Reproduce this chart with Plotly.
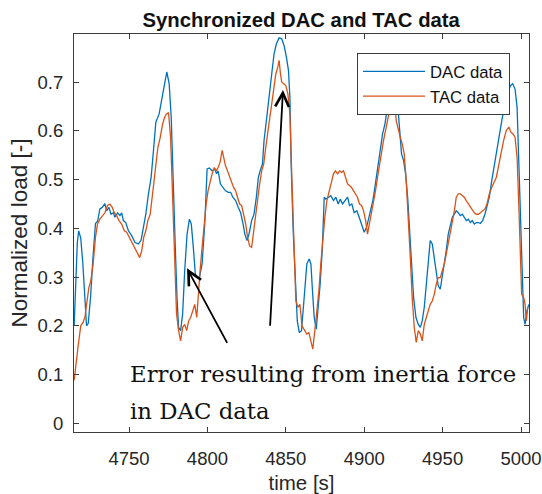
import plotly.graph_objects as go

# ---- data ----
dac_time = [4715.0, 4716.2, 4717.0, 4717.9, 4719.2, 4720.5, 4721.7, 4722.9, 4724.0, 4725.5,
            4727.0, 4728.6, 4730.0, 4731.4, 4732.9, 4734.6, 4735.7, 4737.2, 4738.5, 4740.0,
            4741.0, 4742.7, 4744.2, 4745.3, 4746.4, 4747.9, 4749.6, 4751.7, 4753.8, 4756.0,
            4757.7, 4759.2, 4760.7, 4762.4, 4764.1, 4765.6, 4767.1, 4769.2, 4770.9, 4772.7,
            4774.1, 4775.6, 4776.9, 4778.4, 4779.5, 4780.6, 4781.6, 4782.9, 4784.2, 4785.5,
            4787.0, 4788.5, 4789.7, 4791.0, 4792.3, 4793.6, 4794.9, 4796.6, 4798.3, 4799.8,
            4801.3, 4803.0, 4804.7, 4805.8, 4806.8, 4808.3, 4809.8, 4811.5, 4813.3, 4814.8,
            4816.2, 4818.0, 4819.7, 4821.2, 4822.7, 4823.9, 4825.2, 4826.5, 4828.2, 4829.7,
            4831.2, 4832.5, 4833.6, 4835.1, 4836.1, 4837.6, 4839.3, 4841.0, 4842.5, 4844.0,
            4845.7, 4847.4, 4848.9, 4850.4, 4851.7, 4852.6, 4853.4, 4854.7, 4856.0, 4857.3,
            4858.6, 4860.0, 4861.7, 4863.4, 4864.9, 4866.0, 4867.0, 4868.1, 4869.4, 4870.6,
            4871.9, 4873.2, 4874.5, 4875.5, 4877.0, 4878.7, 4880.4, 4881.9, 4883.4, 4884.7,
            4886.2, 4887.7, 4889.4, 4890.6, 4892.1, 4893.6, 4895.3, 4896.8, 4898.3, 4900.0,
            4901.5, 4903.0, 4904.3, 4905.5, 4906.8, 4908.5, 4910.2, 4911.7, 4913.2, 4914.9,
            4916.5, 4918.0, 4919.5, 4921.3, 4922.3, 4923.8, 4925.1, 4926.4, 4927.7, 4928.9,
            4930.2, 4931.5, 4933.0, 4934.5, 4935.8, 4937.0, 4938.3, 4939.6, 4940.9, 4942.1,
            4943.4, 4944.7, 4946.0, 4947.2, 4948.5, 4949.8, 4951.1, 4952.3, 4953.6, 4954.9,
            4956.2, 4957.5, 4958.7, 4960.0, 4961.3, 4962.6, 4963.8, 4965.1, 4966.4, 4967.7,
            4968.9, 4970.2, 4971.5, 4972.8, 4974.1, 4975.5, 4977.0, 4978.3, 4979.8, 4981.3,
            4983.0, 4984.7, 4986.4, 4988.1, 4989.8, 4991.5, 4993.2, 4994.7, 4996.2, 4997.5,
            4998.3, 4999.2, 5000.0, 5000.9, 5001.7, 5002.6, 5003.8, 5005.0]
dac_load = [0.200, 0.300, 0.370, 0.395, 0.380, 0.330, 0.260, 0.200, 0.205, 0.260,
            0.340, 0.410, 0.415, 0.440, 0.443, 0.451, 0.436, 0.443, 0.429, 0.432,
            0.423, 0.432, 0.426, 0.432, 0.416, 0.412, 0.395, 0.385, 0.371, 0.368,
            0.376, 0.402, 0.429, 0.471, 0.505, 0.560, 0.618, 0.635, 0.669, 0.697,
            0.721, 0.697, 0.628, 0.497, 0.361, 0.258, 0.197, 0.190, 0.225, 0.313,
            0.388, 0.419, 0.409, 0.361, 0.306, 0.299, 0.299, 0.327, 0.409, 0.522,
            0.524, 0.518, 0.522, 0.512, 0.518, 0.491, 0.484, 0.477, 0.474, 0.474,
            0.464, 0.457, 0.443, 0.432, 0.409, 0.388, 0.375, 0.388, 0.416, 0.429,
            0.464, 0.505, 0.518, 0.532, 0.580, 0.628, 0.669, 0.717, 0.758, 0.779,
            0.791, 0.789, 0.775, 0.751, 0.724, 0.669, 0.532, 0.395, 0.292, 0.210,
            0.186, 0.190, 0.258, 0.327, 0.337, 0.327, 0.272, 0.217, 0.193, 0.231,
            0.286, 0.354, 0.464, 0.460, 0.464, 0.467, 0.457, 0.464, 0.450, 0.460,
            0.450, 0.457, 0.464, 0.447, 0.450, 0.432, 0.436, 0.423, 0.409, 0.392,
            0.402, 0.423, 0.443, 0.457, 0.484, 0.518, 0.560, 0.594, 0.614, 0.649,
            0.700, 0.740, 0.730, 0.652, 0.601, 0.553, 0.539, 0.512, 0.464, 0.395,
            0.313, 0.258, 0.217, 0.203, 0.197, 0.210, 0.238, 0.286, 0.340, 0.375,
            0.368, 0.340, 0.313, 0.282, 0.275, 0.299, 0.327, 0.354, 0.388, 0.409,
            0.423, 0.429, 0.436, 0.432, 0.426, 0.429, 0.423, 0.416, 0.419, 0.412,
            0.416, 0.409, 0.412, 0.412, 0.410, 0.416, 0.429, 0.447, 0.464, 0.497,
            0.532, 0.566, 0.601, 0.628, 0.655, 0.676, 0.693, 0.697, 0.686, 0.649,
            0.566, 0.464, 0.361, 0.272, 0.217, 0.203, 0.231, 0.244]

tac_time = [4715.0, 4716.2, 4717.6, 4719.2, 4720.7, 4721.8, 4722.9, 4724.4, 4725.6, 4727.1,
            4728.6, 4729.9, 4731.4, 4732.9, 4734.6, 4736.3, 4737.8, 4739.3, 4740.6, 4742.1,
            4743.6, 4745.3, 4747.0, 4748.5, 4750.0, 4751.7, 4753.4, 4755.1, 4756.8, 4758.1,
            4759.4, 4760.7, 4762.0, 4763.5, 4764.5, 4765.8, 4767.1, 4768.4, 4769.9, 4771.4,
            4772.7, 4773.9, 4775.2, 4776.5, 4777.8, 4779.1, 4780.3, 4781.6, 4782.9, 4784.2,
            4785.5, 4786.8, 4788.0, 4789.3, 4790.6, 4791.9, 4793.2, 4794.0, 4795.3, 4796.6,
            4797.9, 4799.2, 4800.4, 4801.7, 4803.0, 4804.3, 4805.6, 4806.8, 4808.1, 4809.4,
            4810.5, 4811.5, 4812.8, 4814.1, 4815.4, 4816.7, 4818.0, 4819.2, 4820.5, 4821.8,
            4823.1, 4824.4, 4825.6, 4826.9, 4828.2, 4829.5, 4830.8, 4832.1, 4833.3, 4834.6,
            4835.9, 4837.2, 4838.5, 4839.8, 4841.0, 4842.3, 4843.6, 4844.9, 4845.7, 4846.6,
            4847.4, 4848.7, 4850.0, 4851.3, 4852.6, 4853.9, 4855.1, 4856.4, 4857.7, 4859.0,
            4860.3, 4862.1, 4863.4, 4864.7, 4866.0, 4867.2, 4868.5, 4869.8, 4871.1, 4872.3,
            4873.6, 4874.9, 4876.2, 4877.7, 4879.1, 4880.4, 4881.7, 4883.0, 4884.3, 4885.5,
            4886.8, 4888.1, 4889.4, 4890.6, 4891.9, 4893.2, 4894.5, 4895.7, 4897.0, 4898.3,
            4899.6, 4900.9, 4902.1, 4903.4, 4904.7, 4906.0, 4907.2, 4908.5, 4909.8, 4911.1,
            4912.3, 4913.6, 4914.9, 4916.2, 4917.5, 4918.8, 4920.4, 4921.7, 4923.0, 4924.3,
            4925.5, 4926.8, 4928.1, 4929.4, 4930.6, 4931.9, 4933.2, 4934.5, 4935.8, 4937.0,
            4938.3, 4939.6, 4940.9, 4942.1, 4943.4, 4944.7, 4946.0, 4947.2, 4948.5, 4949.8,
            4951.1, 4952.3, 4953.6, 4954.9, 4956.2, 4957.5, 4958.7, 4960.0, 4961.3, 4962.6,
            4963.8, 4965.1, 4966.4, 4967.7, 4968.9, 4970.2, 4971.5, 4972.8, 4974.1, 4975.5,
            4977.0, 4978.3, 4979.8, 4981.3, 4983.0, 4984.3, 4985.5, 4987.2, 4988.9, 4990.6,
            4992.3, 4993.6, 4994.9, 4996.2, 4997.5, 4998.8, 4999.6, 5000.4, 5001.7, 5002.6,
            5003.4, 5004.3]
tac_load = [0.088, 0.125, 0.160, 0.200, 0.207, 0.217, 0.245, 0.279, 0.292, 0.327,
            0.382, 0.409, 0.419, 0.426, 0.432, 0.447, 0.450, 0.443, 0.432, 0.426,
            0.416, 0.409, 0.395, 0.392, 0.382, 0.371, 0.361, 0.351, 0.340, 0.354,
            0.382, 0.395, 0.416, 0.429, 0.457, 0.484, 0.532, 0.566, 0.587, 0.614,
            0.628, 0.635, 0.638, 0.587, 0.464, 0.327, 0.225, 0.190, 0.169, 0.197,
            0.203, 0.190, 0.210, 0.217, 0.231, 0.244, 0.217, 0.258, 0.313, 0.361,
            0.409, 0.450, 0.477, 0.497, 0.512, 0.525, 0.518, 0.525, 0.536, 0.560,
            0.539, 0.529, 0.518, 0.505, 0.495, 0.484, 0.477, 0.464, 0.450, 0.447,
            0.429, 0.409, 0.382, 0.364, 0.361, 0.395, 0.436, 0.471, 0.491, 0.518,
            0.532, 0.566, 0.601, 0.628, 0.655, 0.690, 0.717, 0.731, 0.745, 0.717,
            0.700, 0.697, 0.693, 0.676, 0.635, 0.497, 0.361, 0.251, 0.238, 0.244,
            0.200, 0.190, 0.183, 0.186, 0.169, 0.152, 0.190, 0.231, 0.272, 0.327,
            0.382, 0.423, 0.457, 0.477, 0.497, 0.512, 0.518, 0.512, 0.518, 0.515,
            0.518, 0.505, 0.491, 0.488, 0.484, 0.477, 0.471, 0.464, 0.450, 0.447,
            0.436, 0.416, 0.388, 0.409, 0.436, 0.457, 0.477, 0.505, 0.532, 0.560,
            0.580, 0.601, 0.621, 0.642, 0.680, 0.690, 0.621, 0.601, 0.587, 0.573,
            0.553, 0.497, 0.429, 0.340, 0.258, 0.197, 0.166, 0.190, 0.183, 0.169,
            0.203, 0.217, 0.231, 0.244, 0.251, 0.265, 0.286, 0.299, 0.299, 0.313,
            0.327, 0.347, 0.368, 0.395, 0.416, 0.436, 0.464, 0.471, 0.471, 0.467,
            0.464, 0.457, 0.450, 0.443, 0.436, 0.432, 0.429, 0.429, 0.432, 0.436,
            0.440, 0.450, 0.471, 0.484, 0.497, 0.505, 0.525, 0.553, 0.580, 0.601,
            0.608, 0.597, 0.594, 0.587, 0.546, 0.429, 0.313, 0.265, 0.258, 0.244,
            0.210, 0.238]

x_ticks = [4750, 4800, 4850, 4900, 4950, 5000]
y_ticks = [0, 0.1, 0.2, 0.3, 0.4, 0.5, 0.6, 0.7]
y_ticklabels = ["0", "0.1", "0.2", "0.3", "0.4", "0.5", "0.6", "0.7"]

SANS = "Liberation Sans, Arial, Helvetica, sans-serif"
SERIF = "DejaVu Serif, Liberation Serif, serif"
AX = "#3c3c3c"

fig = go.Figure()
fig.add_trace(go.Scatter(x=dac_time, y=dac_load, mode="lines", name="DAC data",
                         line=dict(color="#0072BD", width=1.3)))
fig.add_trace(go.Scatter(x=tac_time, y=tac_load, mode="lines", name="TAC data",
                         line=dict(color="#D95319", width=1.3)))

axis_common = dict(showline=True, linecolor=AX, linewidth=1, mirror="ticks",
                   ticks="inside", ticklen=5, tickcolor=AX, showgrid=False,
                   zeroline=False, automargin=False,
                   tickfont=dict(family=SANS, size=18.5, color="#262626"))

fig.update_xaxes(range=[4714.9, 5005.1], tickvals=x_ticks, ticklabelstandoff=10,
                 title=dict(text="time [s]", font=dict(family=SANS, size=20.5, color="#262626"),
                            standoff=9),
                 **axis_common)
fig.update_yaxes(range=[-0.018, 0.799], tickvals=y_ticks, ticktext=y_ticklabels,
                 ticklabelstandoff=6,
                 title=dict(text="Normalized load [-]", font=dict(family=SANS, size=22.5, color="#262626"),
                            standoff=3),
                 **axis_common)

fig.update_layout(
    width=542, height=494,
    margin=dict(l=74, r=13, t=34, b=62),
    paper_bgcolor="white", plot_bgcolor="white",
    title=dict(text="<b>Synchronized DAC and TAC data</b>", x=0.5556, xanchor="center",
               y=0.959, yanchor="middle",
               font=dict(family=SANS, size=20.3, color="#111111")),
    legend=dict(x=0.622, y=0.952, xanchor="left", yanchor="top",
                bgcolor="white", bordercolor=AX, borderwidth=1,
                font=dict(family=SANS, size=16.7, color="#111111"),
                itemwidth=62, tracegroupgap=0),
    showlegend=True,
)

# arrows (data coordinates of tail and tip)
fig.add_annotation(x=4787.0, y=0.318, ax=4813.1, ay=0.162, xref="x", yref="y",
                   axref="x", ayref="y", text="", showarrow=True,
                   arrowhead=5, arrowsize=1.5, arrowwidth=1.8, arrowcolor="black")
fig.add_annotation(x=4848.2, y=0.684, ax=4839.9, ay=0.197, xref="x", yref="y",
                   axref="x", ayref="y", text="", showarrow=True,
                   arrowhead=5, arrowsize=1.5, arrowwidth=1.8, arrowcolor="black")

# annotation text
fig.add_annotation(x=0.1187, y=0.1457, xref="paper", yref="paper", xanchor="left",
                   yanchor="middle", showarrow=False, text="Error resulting from inertia force",
                   font=dict(family=SERIF, size=22.8, color="#111111"))
fig.add_annotation(x=0.1187, y=0.052, xref="paper", yref="paper", xanchor="left",
                   yanchor="middle", showarrow=False, text="in DAC data",
                   font=dict(family=SERIF, size=22.8, color="#111111"))

fig.write_html("out.html")
